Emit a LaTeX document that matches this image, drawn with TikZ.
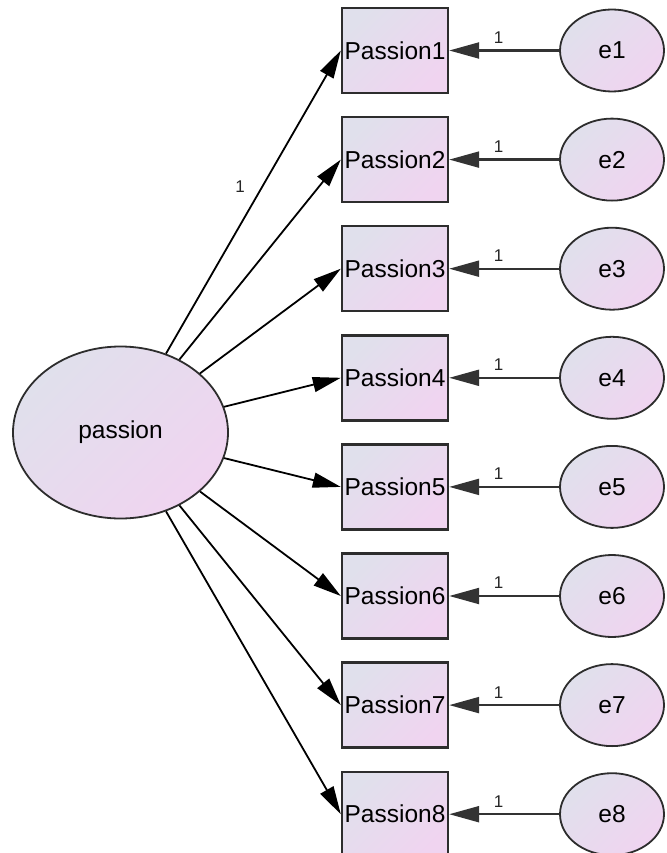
\documentclass[tikz,border=0pt]{standalone}
\usepackage{fontspec}
\setmainfont{Liberation Sans}
\usetikzlibrary{arrows.meta,shapes.geometric}
\definecolor{fillA}{RGB}{224,224,236}
\definecolor{fillB}{RGB}{240,212,240}
\definecolor{edge}{RGB}{45,45,45}
\tikzset{
  obsbox/.style={draw=edge, line width=2.4pt, inner sep=0pt, minimum width=106pt, minimum height=85pt,
    shade, shading=axis, left color=fillA, right color=fillB, shading angle=45,
    font=\fontsize{24.5}{28}\selectfont},
  latent/.style={ellipse, draw=edge, line width=1.8pt, inner sep=0pt, minimum width=215pt, minimum height=172pt,
    shade, shading=axis, left color=fillA, right color=fillB, shading angle=45,
    font=\fontsize{24.5}{28}\selectfont},
  errnode/.style={ellipse, draw=edge, line width=1.8pt, inner sep=0pt, minimum width=104pt, minimum height=82pt,
    shade, shading=axis, left color=fillA, right color=fillB, shading angle=45,
    font=\fontsize{24.5}{28}\selectfont},
  path/.style={draw=black, line width=1.8pt, -{Triangle[length=28pt,width=15pt]}},
  errpath/.style={draw=black!80, line width=2.2pt, -{Triangle[length=30pt,width=16pt]}},
  lab/.style={font=\fontsize{17}{19}\selectfont, text=black!85, inner sep=0pt}
}
\begin{document}
\begin{tikzpicture}[x=1pt,y=-1pt]
\useasboundingbox (0,0) rectangle (666,853);
\node[latent] (L) at (120.5,432.5) {passion};
\foreach \i in {1,...,8}{
  \pgfmathsetmacro{\yy}{50.5+(\i-1)*109.1}
  \node[obsbox] (P\i) at (395,\yy) {Passion\i};
  \node[errnode] (E\i) at (612,\yy) {e\i};
}
\draw[path] (L) -- node[lab, pos=0.55, xshift=-22pt] {1} (P1.west);
\foreach \i in {2,...,8}{
  \draw[path] (L) -- (P\i.west);
}
\foreach \i in {1,...,8}{
  \draw[errpath] (E\i.west) -- node[lab, pos=0.55, above=6pt] {1} (P\i.east);
}
\end{tikzpicture}
\end{document}
